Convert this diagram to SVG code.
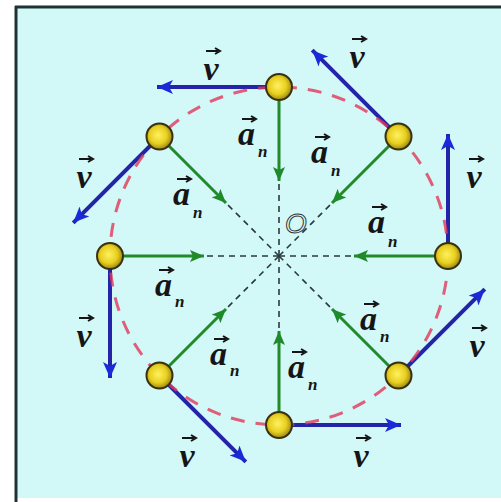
<svg xmlns="http://www.w3.org/2000/svg" width="501" height="502" viewBox="0 0 501 502">
<defs>
<radialGradient id="ball" cx="0.45" cy="0.45" r="0.6">
<stop offset="0" stop-color="#fff060"/>
<stop offset="0.55" stop-color="#e8d020"/>
<stop offset="1" stop-color="#8a7a10"/>
</radialGradient>
<marker id="hb" markerUnits="userSpaceOnUse" markerWidth="18" markerHeight="14" refX="16" refY="7" orient="auto">
<path d="M0,0 L16,7 L0,14 L4,7 z" fill="#1a2ad8"/>
</marker>
<marker id="hg" markerUnits="userSpaceOnUse" markerWidth="16" markerHeight="12" refX="14" refY="6" orient="auto">
<path d="M0,0 L14,6 L0,12 L3,6 z" fill="#1f8a2a"/>
</marker>
<path id="ov" d="M-7,0 H5 M2,-3 L7,0 L2,3" stroke="#151515" stroke-width="2" fill="none"/>
</defs>
<style>
.v{stroke:#2424a8;stroke-width:4;fill:none}
.g{stroke:#238a2a;stroke-width:3;fill:none}
.d{stroke:#2a3a3a;stroke-width:1.6;stroke-dasharray:6 5;fill:none}
.node{fill:url(#ball);stroke:#3a3010;stroke-width:2}
.lv{font-family:"Liberation Serif",serif;font-weight:bold;font-style:italic;font-size:34px;fill:#151515;text-anchor:middle}
.la{font-family:"Liberation Serif",serif;font-weight:bold;font-style:italic;font-size:34px;fill:#151515}
.sub{font-family:"Liberation Serif",serif;font-weight:bold;font-style:italic;font-size:17px;fill:#151515}
</style>
<rect x="0" y="0" width="501" height="502" fill="#ffffff"/>
<rect x="16" y="7" width="485" height="491" fill="#d2f8f8"/>
<line x1="16" y1="6" x2="16" y2="502" stroke="#1e3434" stroke-width="3"/>
<line x1="15" y1="7" x2="501" y2="7" stroke="#1e3434" stroke-width="3"/>
<g id="connectors">
<g id="radii">
<line class="d" x1="279" y1="256" x2="279" y2="181"/>
<line class="d" x1="279" y1="256" x2="226" y2="203"/>
<line class="d" x1="279" y1="256" x2="204" y2="256"/>
<line class="d" x1="279" y1="256" x2="226" y2="309"/>
<line class="d" x1="279" y1="256" x2="279" y2="331"/>
<line class="d" x1="279" y1="256" x2="332" y2="309"/>
<line class="d" x1="279" y1="256" x2="354" y2="256"/>
<line class="d" x1="279" y1="256" x2="332" y2="203"/>
</g>
<g id="accel">
<line class="g" x1="279" y1="87" x2="279" y2="181" marker-end="url(#hg)"/>
<line class="g" x1="159.5" y1="136.5" x2="226" y2="203" marker-end="url(#hg)"/>
<line class="g" x1="110" y1="256" x2="204" y2="256" marker-end="url(#hg)"/>
<line class="g" x1="159.5" y1="375.5" x2="226" y2="309" marker-end="url(#hg)"/>
<line class="g" x1="279" y1="425" x2="279" y2="331" marker-end="url(#hg)"/>
<line class="g" x1="398.5" y1="375.5" x2="332" y2="309" marker-end="url(#hg)"/>
<line class="g" x1="448" y1="256" x2="354" y2="256" marker-end="url(#hg)"/>
<line class="g" x1="398.5" y1="136.5" x2="332" y2="203" marker-end="url(#hg)"/>
</g>
<g id="velocity">
<line class="v" x1="279" y1="87" x2="157" y2="87" marker-end="url(#hb)"/>
<line class="v" x1="159.5" y1="136.5" x2="73.2" y2="222.8" marker-end="url(#hb)"/>
<line class="v" x1="110" y1="256" x2="110" y2="378" marker-end="url(#hb)"/>
<line class="v" x1="159.5" y1="375.5" x2="245.8" y2="461.8" marker-end="url(#hb)"/>
<line class="v" x1="279" y1="425" x2="401" y2="425" marker-end="url(#hb)"/>
<line class="v" x1="398.5" y1="375.5" x2="484.8" y2="289.2" marker-end="url(#hb)"/>
<line class="v" x1="448" y1="256" x2="448" y2="134" marker-end="url(#hb)"/>
<line class="v" x1="398.5" y1="136.5" x2="312.2" y2="50.2" marker-end="url(#hb)"/>
</g>
<circle id="path" cx="279" cy="256" r="169" fill="none" stroke="#e2385a" stroke-width="3" stroke-dasharray="14 11" opacity="0.8"/>
</g>
<g id="n0"><circle class="node" cx="279" cy="87" r="13"/></g>
<g id="n1"><circle class="node" cx="159.5" cy="136.5" r="13"/></g>
<g id="n2"><circle class="node" cx="110" cy="256" r="13"/></g>
<g id="n3"><circle class="node" cx="159.5" cy="375.5" r="13"/></g>
<g id="n4"><circle class="node" cx="279" cy="425" r="13"/></g>
<g id="n5"><circle class="node" cx="398.5" cy="375.5" r="13"/></g>
<g id="n6"><circle class="node" cx="448" cy="256" r="13"/></g>
<g id="n7"><circle class="node" cx="398.5" cy="136.5" r="13"/></g>
<g id="labels">
<text class="lv" x="211" y="80">v</text><use href="#ov" x="213" y="51"/>
<text class="lv" x="84" y="188">v</text><use href="#ov" x="86" y="159"/>
<text class="lv" x="84" y="347">v</text><use href="#ov" x="86" y="318"/>
<text class="lv" x="187" y="467">v</text><use href="#ov" x="189" y="438"/>
<text class="lv" x="361" y="467">v</text><use href="#ov" x="363" y="438"/>
<text class="lv" x="477" y="357">v</text><use href="#ov" x="479" y="328"/>
<text class="lv" x="474" y="188">v</text><use href="#ov" x="476" y="159"/>
<text class="lv" x="357" y="68">v</text><use href="#ov" x="359" y="39"/>

<text class="la" x="238" y="145">a</text><use href="#ov" x="249" y="119"/><text class="sub" x="258" y="157">n</text>
<text class="la" x="173" y="205">a</text><use href="#ov" x="184" y="179"/><text class="sub" x="193" y="218">n</text>
<text class="la" x="311" y="163">a</text><use href="#ov" x="322" y="137"/><text class="sub" x="331" y="176">n</text>
<text class="la" x="368" y="233">a</text><use href="#ov" x="379" y="207"/><text class="sub" x="388" y="247">n</text>
<text class="la" x="155" y="296">a</text><use href="#ov" x="166" y="270"/><text class="sub" x="175" y="307">n</text>
<text class="la" x="210" y="365">a</text><use href="#ov" x="221" y="339"/><text class="sub" x="230" y="376">n</text>
<text class="la" x="288" y="378">a</text><use href="#ov" x="299" y="352"/><text class="sub" x="308" y="390">n</text>
<text class="la" x="360" y="330">a</text><use href="#ov" x="371" y="304"/><text class="sub" x="380" y="342">n</text>
<text x="285" y="233" font-family="Liberation Sans, sans-serif" font-style="italic" font-size="28" fill="#dff" stroke="#333" stroke-width="1">O</text>
</g>
</svg>
